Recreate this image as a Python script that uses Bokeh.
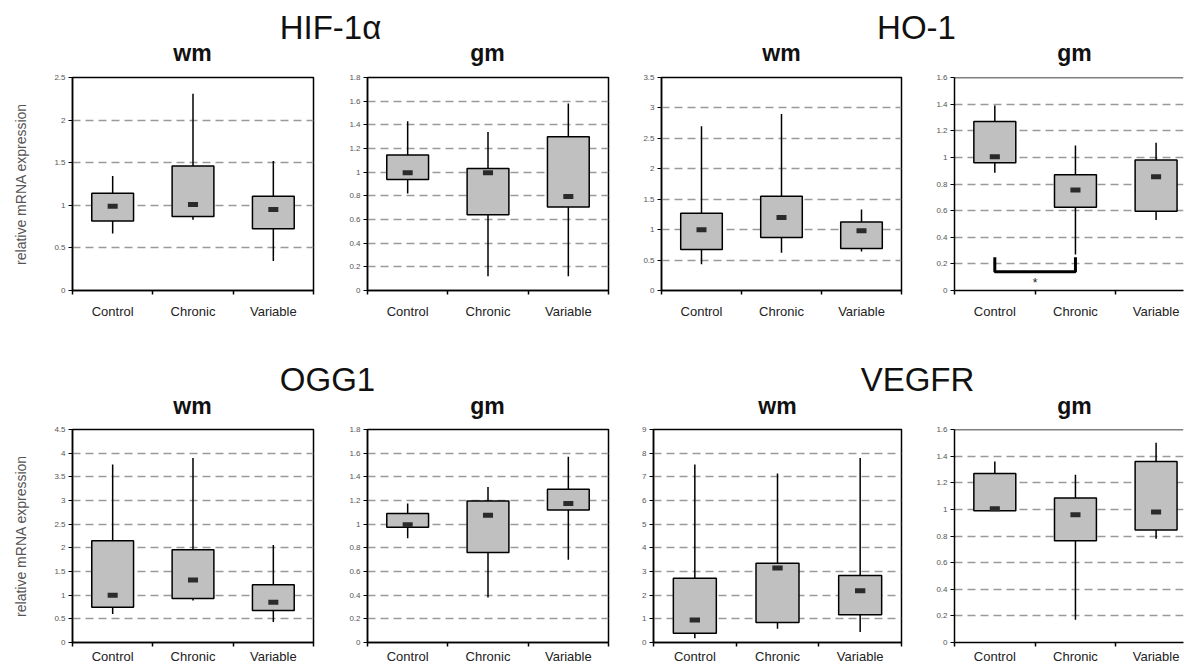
from bokeh.plotting import figure
from bokeh.layouts import row, column
from bokeh.models import Range1d, FixedTicker, Span
from bokeh.core.properties import value
from bokeh.embed import file_html
from bokeh.resources import INLINE

# ---------------- data ----------------
categories = ["Control", "Chronic", "Variable"]
cat_pos = [0.5, 1.5, 2.5]
cat_bounds = [0, 1, 2, 3]

# whisker low, box bottom, marker, box top, whisker high
hif_wm = dict(lo=[0.67, 0.83, 0.345], q1=[0.815, 0.87, 0.725], med=[0.99, 1.01, 0.95],
              q3=[1.14, 1.46, 1.105], hi=[1.345, 2.31, 1.52])
hif_gm = dict(lo=[0.82, 0.12, 0.12], q1=[0.937, 0.64, 0.705], med=[0.995, 0.995, 0.795],
              q3=[1.145, 1.03, 1.30], hi=[1.43, 1.34, 1.58])
ho_wm = dict(lo=[0.43, 0.62, 0.64], q1=[0.675, 0.87, 0.69], med=[1.0, 1.2, 0.98],
             q3=[1.27, 1.55, 1.125], hi=[2.70, 2.90, 1.33])
ho_gm = dict(lo=[0.885, 0.27, 0.53], q1=[0.96, 0.625, 0.595], med=[1.005, 0.755, 0.855],
             q3=[1.27, 0.87, 0.98], hi=[1.39, 1.09, 1.11])
ogg_wm = dict(lo=[0.60, 0.885, 0.435], q1=[0.745, 0.93, 0.675], med=[1.0, 1.32, 0.85],
              q3=[2.15, 1.96, 1.22], hi=[3.76, 3.90, 2.06])
ogg_gm = dict(lo=[0.88, 0.38, 0.70], q1=[0.975, 0.76, 1.12], med=[0.995, 1.075, 1.175],
              q3=[1.09, 1.195, 1.295], hi=[1.175, 1.315, 1.57])
veg_wm = dict(lo=[0.18, 0.58, 0.44], q1=[0.39, 0.84, 1.17], med=[0.955, 3.15, 2.19],
              q3=[2.71, 3.35, 2.83], hi=[7.52, 7.14, 7.80])
veg_gm = dict(lo=[0.99, 0.17, 0.78], q1=[0.99, 0.765, 0.845], med=[1.005, 0.96, 0.98],
              q3=[1.27, 1.085, 1.36], hi=[1.36, 1.26, 1.50])

# y ticks per panel
ticks_hif_wm = [0, 0.5, 1, 1.5, 2, 2.5]
ticks_hif_gm = [0, 0.2, 0.4, 0.6, 0.8, 1, 1.2, 1.4, 1.6, 1.8]
ticks_ho_wm = [0, 0.5, 1, 1.5, 2, 2.5, 3, 3.5]
ticks_ho_gm = [0, 0.2, 0.4, 0.6, 0.8, 1, 1.2, 1.4, 1.6]
ticks_ogg_wm = [0, 0.5, 1, 1.5, 2, 2.5, 3, 3.5, 4, 4.5]
ticks_ogg_gm = [0, 0.2, 0.4, 0.6, 0.8, 1, 1.2, 1.4, 1.6, 1.8]
ticks_veg_wm = [0, 1, 2, 3, 4, 5, 6, 7, 8, 9]
ticks_veg_gm = [0, 0.2, 0.4, 0.6, 0.8, 1, 1.2, 1.4, 1.6]

# significance bracket (HO-1 gm, Control vs Chronic)
sig_pair = [0, 1]
sig_level = 0.14
sig_tip = 0.25
sig_star_y = 0.06

gene_titles_top = ["HIF-1\u03b1", "HO-1"]
gene_titles_bottom = ["OGG1", "VEGFR"]
tissue_titles = ["wm", "gm", "wm", "gm"]
ylabel_text = "relative mRNA expression"

FONT_NAME = "Liberation Sans"
FONT = value(FONT_NAME)
FH = 213


def panel(stats, ticks, fw, mbl, mbr, mbb, x_standoff, ylabel=None, xmax=3, open_right=False):
    ymax = ticks[-1]
    p = figure(width=mbl + fw + mbr, height=5 + FH + mbb, frame_width=fw, frame_height=FH,
               x_range=Range1d(0, xmax), y_range=Range1d(0, ymax),
               min_border_left=mbl, min_border_right=mbr, min_border_top=5, min_border_bottom=mbb,
               toolbar_location=None, tools="", output_backend="svg")
    p.background_fill_color = "white"
    p.border_fill_color = "white"
    if open_right:
        p.outline_line_color = None
        p.add_layout(Span(location=ymax, dimension="width", line_color="black", line_width=1.5))
    else:
        p.outline_line_color = "black"
        p.outline_line_width = 1.5
        p.outline_line_alpha = 1.0

    # x axis: labels at centers, tick marks at category boundaries
    xt = FixedTicker(ticks=cat_pos, minor_ticks=cat_bounds)
    xa = p.xaxis[0]
    xa.ticker = xt
    xa.major_label_overrides = {cp: c for cp, c in zip(cat_pos, categories)}
    xa.major_tick_out = 0
    xa.major_tick_in = 0
    xa.minor_tick_out = 4
    xa.minor_tick_in = 0
    xa.minor_tick_line_color = "black"
    xa.minor_tick_line_width = 1.5
    xa.axis_line_color = "black"
    xa.axis_line_width = 1.5
    xa.major_label_text_font = FONT_NAME
    xa.major_label_text_font_size = "13px"
    xa.major_label_text_color = "#222222"
    xa.major_label_standoff = x_standoff
    p.xgrid.visible = False

    yt = FixedTicker(ticks=ticks, minor_ticks=[])
    ya = p.yaxis[0]
    ya.ticker = yt
    ya.major_label_overrides = {t: f"{t:g}" for t in ticks}
    ya.major_tick_out = 4
    ya.major_tick_in = 0
    ya.major_tick_line_color = "black"
    ya.major_tick_line_width = 1.2
    ya.axis_line_color = "black"
    ya.axis_line_width = 1.5
    ya.major_label_text_font = FONT_NAME
    ya.major_label_text_font_size = "8px"
    ya.major_label_text_color = "#555555"
    ya.major_label_standoff = 3
    if ylabel:
        ya.axis_label = ylabel
        ya.axis_label_text_font = FONT_NAME
        ya.axis_label_text_font_size = "14px"
        ya.axis_label_text_font_style = "normal"
        ya.axis_label_text_color = "#555555"
        ya.axis_label_standoff = 22
    p.ygrid.ticker = yt
    p.ygrid.grid_line_color = "#9a9a9a"
    p.ygrid.grid_line_width = 1.3
    p.ygrid.grid_line_dash = "8 5"

    p.segment(x0=cat_pos, y0=stats["lo"], x1=cat_pos, y1=stats["hi"],
              line_color="black", line_width=1.5)
    p.vbar(x=cat_pos, width=0.52, bottom=stats["q1"], top=stats["q3"],
           fill_color="#c0c0c0", line_color="black", line_width=1.5)
    p.rect(x=cat_pos, y=stats["med"], width=0.125, height=5, height_units="screen",
           fill_color="#2b2b2b", line_color=None)
    return p


def header(y0, y1, texts_big, xs_big, yb_big, texts_small, xs_small, yb_small):
    h = figure(width=1184, height=y1 - y0, x_range=Range1d(0, 1184), y_range=Range1d(y1, y0),
               min_border=0, toolbar_location=None, tools="", output_backend="svg",
               x_axis_location=None, y_axis_location=None)
    h.outline_line_color = None
    h.background_fill_color = "white"
    h.border_fill_color = "white"
    for g in h.grid:
        g.visible = False
    h.text(x=xs_big, y=[yb_big] * len(texts_big), text=texts_big, text_font=FONT,
           text_font_size="33px", text_align="center", text_baseline="alphabetic",
           text_color="#111111")
    h.text(x=xs_small, y=[yb_small] * len(texts_small), text=texts_small, text_font=FONT,
           text_font_size="23px", text_font_style="bold", text_align="center",
           text_baseline="alphabetic", text_color="#111111")
    return h


h1 = header(0, 72, gene_titles_top, [330, 916], 27, tissue_titles, [192, 487, 781, 1074], 52)
p1 = panel(hif_wm, ticks_hif_wm, 241, 72, 3, 37, 9, ylabel=ylabel_text)
p2 = panel(hif_gm, ticks_hif_gm, 241, 51, 3, 37, 9)
p3 = panel(ho_wm, ticks_ho_wm, 240, 50, 3, 37, 9)
p4 = panel(ho_gm, ticks_ho_gm, 229, 50, 1, 37, 9, xmax=2.84, open_right=True)

# significance bracket on HO-1 gm
bx = [cat_pos[sig_pair[0]], cat_pos[sig_pair[0]], cat_pos[sig_pair[1]], cat_pos[sig_pair[1]]]
by = [sig_tip, sig_level, sig_level, sig_tip]
p4.line(x=bx, y=by, line_color="black", line_width=3)
p4.text(x=[(cat_pos[sig_pair[0]] + cat_pos[sig_pair[1]]) / 2], y=[sig_star_y], text=["*"],
        text_font=FONT, text_font_size="12px", text_align="center", text_baseline="middle",
        text_color="#222222")

h2 = header(327, 424, gene_titles_bottom, [327, 917], 379, tissue_titles, [192, 487, 777, 1074], 405)
p5 = panel(ogg_wm, ticks_ogg_wm, 241, 72, 3, 24, 2, ylabel=ylabel_text)
p6 = panel(ogg_gm, ticks_ogg_gm, 241, 51, 3, 24, 2)
p7 = panel(veg_wm, ticks_veg_wm, 248, 42, 3, 24, 2)
p8 = panel(veg_gm, ticks_veg_gm, 229, 50, 1, 24, 2, xmax=2.84, open_right=True)

layout = column(h1, row(p1, p2, p3, p4, spacing=0), h2, row(p5, p6, p7, p8, spacing=0), spacing=0)

open("out.html", "w").write(file_html(layout, INLINE))
